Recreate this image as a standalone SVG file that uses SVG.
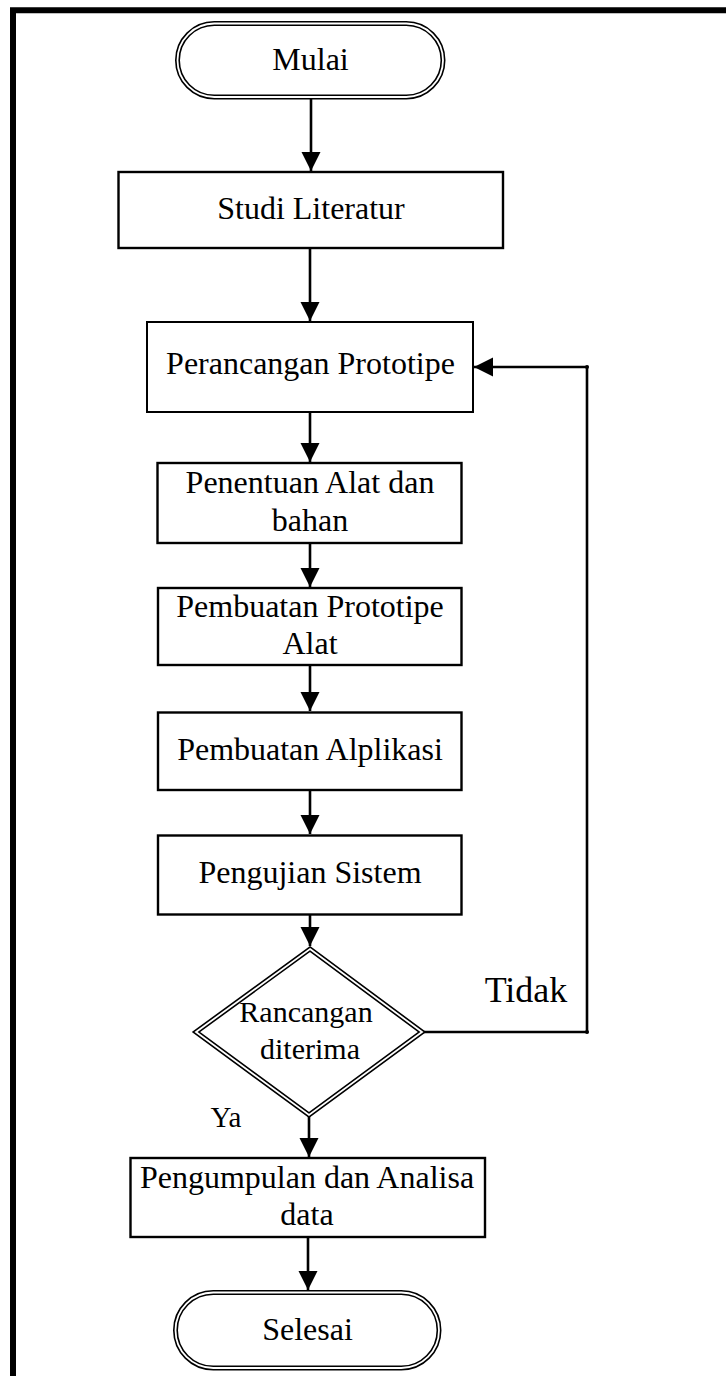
<svg xmlns="http://www.w3.org/2000/svg" width="726" height="1376" viewBox="0 0 726 1376">
  <defs>
    <marker id="arrow" markerUnits="userSpaceOnUse" markerWidth="20" markerHeight="20" viewBox="0 0 20 20" refX="19" refY="10" orient="auto">
      <path d="M0,0.5 L19,10 L0,19.5 Z" fill="#000"/>
    </marker>
    <style>
      .txt { font-family: "Liberation Serif", "Times New Roman", serif; font-size: 32px; fill: #000; text-anchor: middle; }
      .box { fill: #fff; stroke: #000; stroke-width: 2.4; }
      .dbl-outer { fill: #fff; stroke: #000; stroke-width: 5; }
      .dbl-inner { fill: none; stroke: #fff; stroke-width: 1.8; }
      .wire { fill: none; stroke: #000; stroke-width: 2.6; }
      .wire-arrow { fill: none; stroke: #000; stroke-width: 2.6; marker-end: url(#arrow); }
    </style>
  </defs>

  <rect width="726" height="1376" fill="#fff"/>

  <!-- page frame -->
  <path d="M13,1390 V10.3 H740" fill="none" stroke="#000" stroke-width="6"/>

  <!-- connectors -->
  <g id="connectors">
    <line class="wire-arrow" x1="311" y1="99" x2="311" y2="171"/>
    <line class="wire-arrow" x1="310" y1="248" x2="310" y2="321"/>
    <line class="wire-arrow" x1="310" y1="412" x2="310" y2="462"/>
    <line class="wire-arrow" x1="310" y1="543" x2="310" y2="587"/>
    <line class="wire-arrow" x1="310" y1="665" x2="310" y2="711"/>
    <line class="wire-arrow" x1="310" y1="790" x2="310" y2="834"/>
    <line class="wire-arrow" x1="310" y1="915" x2="310" y2="946"/>
    <line class="wire-arrow" x1="309" y1="1116" x2="309" y2="1157"/>
    <line class="wire-arrow" x1="308" y1="1237" x2="308" y2="1290"/>
    <!-- "Tidak" loop back to Perancangan Prototipe -->
    <path class="wire-arrow" d="M423,1032 H587 V367 H474"/>
    <circle cx="587" cy="1032" r="2" fill="#000"/>
    <circle cx="587" cy="367" r="2" fill="#000"/>
    <text class="txt" x="526" y="1002" style="font-size:36px">Tidak</text>
    <text class="txt" x="226" y="1127" style="font-size:29px">Ya</text>
  </g>

  <g id="mulai">
    <rect class="dbl-outer" x="177.5" y="23.5" width="265.5" height="73.5" rx="36.75"/>
    <rect class="dbl-inner" x="177.5" y="23.5" width="265.5" height="73.5" rx="36.75"/>
    <text class="txt" x="310.5" y="70">Mulai</text>
  </g>

  <g id="studi-literatur">
    <rect class="box" x="118.5" y="172" width="384.5" height="76"/>
    <text class="txt" x="311" y="219">Studi Literatur</text>
  </g>

  <g id="perancangan-prototipe">
    <rect class="box" x="147" y="322" width="326" height="90" style="stroke-width:2"/>
    <text class="txt" x="310.5" y="374">Perancangan Prototipe</text>
  </g>

  <g id="penentuan-alat">
    <rect class="box" x="157.5" y="463" width="304" height="80"/>
    <text class="txt" x="310" y="493">Penentuan Alat dan</text>
    <text class="txt" x="310" y="531">bahan</text>
  </g>

  <g id="pembuatan-prototipe">
    <rect class="box" x="158" y="588" width="303.5" height="77"/>
    <text class="txt" x="310" y="617">Pembuatan Prototipe</text>
    <text class="txt" x="310" y="654">Alat</text>
  </g>

  <g id="pembuatan-aplikasi">
    <rect class="box" x="158" y="712.5" width="303.5" height="77.5"/>
    <text class="txt" x="310" y="760">Pembuatan Alplikasi</text>
  </g>

  <g id="pengujian-sistem">
    <rect class="box" x="158" y="835.5" width="303.5" height="79"/>
    <text class="txt" x="310" y="883">Pengujian Sistem</text>
  </g>

  <g id="rancangan-diterima">
    <polygon class="dbl-outer" points="310,949 422,1032 309,1115 196,1032"/>
    <polygon class="dbl-inner" points="310,949 422,1032 309,1115 196,1032"/>
    <text class="txt" x="306" y="1022" style="font-size:30px">Rancangan</text>
    <text class="txt" x="310" y="1059" style="font-size:30px">diterima</text>
  </g>

  <g id="pengumpulan-data">
    <rect class="box" x="130.5" y="1158" width="354.5" height="79"/>
    <text class="txt" x="307" y="1188">Pengumpulan dan Analisa</text>
    <text class="txt" x="307" y="1225">data</text>
  </g>

  <g id="selesai">
    <rect class="dbl-outer" x="175.5" y="1292.5" width="263.5" height="75.5" rx="37.75"/>
    <rect class="dbl-inner" x="175.5" y="1292.5" width="263.5" height="75.5" rx="37.75"/>
    <text class="txt" x="307.5" y="1340">Selesai</text>
  </g>
</svg>
